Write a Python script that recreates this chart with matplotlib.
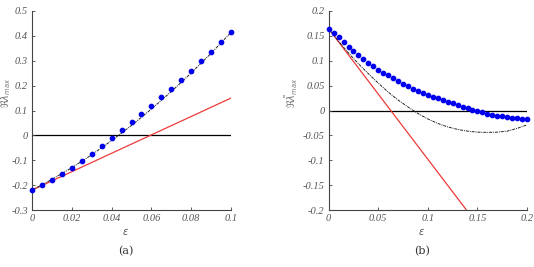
import numpy as np
import matplotlib
matplotlib.use('Agg')
import matplotlib.pyplot as plt

# ---- panel (a) data ----
eps_a_dots = [0, 0.005, 0.01, 0.015, 0.02, 0.025, 0.03, 0.035, 0.04, 0.045, 0.05,
              0.055, 0.06, 0.065, 0.07, 0.075, 0.08, 0.085, 0.09, 0.095, 0.1]
lam_a_dots = [-0.221, -0.201, -0.179, -0.157, -0.130, -0.104, -0.075, -0.043, -0.012, 0.020, 0.052,
              0.086, 0.119, 0.154, 0.188, 0.224, 0.260, 0.298, 0.335, 0.375, 0.414]

eps_a_curve = [0, 0.01, 0.02, 0.03, 0.04, 0.05, 0.06, 0.07, 0.08, 0.09, 0.1]
lam_a_curve = [-0.220, -0.177, -0.130, -0.078, -0.021, 0.040, 0.106, 0.176, 0.251, 0.330, 0.414]

eps_a_lin = [0, 0.1]
lam_a_lin = [-0.22, 0.15]

xt_a = [0, 0.02, 0.04, 0.06, 0.08, 0.1]
xt_a_lab = ['0', '0.02', '0.04', '0.06', '0.08', '0.1']
yt_a = [-0.3, -0.2, -0.1, 0, 0.1, 0.2, 0.3, 0.4, 0.5]
yt_a_lab = ['-0.3', '-0.2', '-0.1', '0', '0.1', '0.2', '0.3', '0.4', '0.5']

# ---- panel (b) data ----
eps_b_dots = [0, 0.005, 0.01, 0.015, 0.02, 0.025, 0.03, 0.035, 0.04, 0.045, 0.05,
              0.055, 0.06, 0.065, 0.07, 0.075, 0.08, 0.085, 0.09, 0.095, 0.1,
              0.105, 0.11, 0.115, 0.12, 0.125, 0.13, 0.135, 0.14, 0.145, 0.15,
              0.155, 0.16, 0.165, 0.17, 0.175, 0.18, 0.185, 0.19, 0.195, 0.2]
lam_b_dots = [0.164, 0.155, 0.147, 0.137, 0.128, 0.120, 0.112, 0.1035, 0.096, 0.089, 0.082,
              0.076, 0.071, 0.066, 0.059, 0.054, 0.049, 0.044, 0.039, 0.035, 0.032,
              0.028, 0.0245, 0.021, 0.018, 0.0145, 0.011, 0.0076, 0.0044, 0.0016, -0.0016,
              -0.0036, -0.0064, -0.0084, -0.0104, -0.0117, -0.013, -0.0144, -0.0157, -0.017, -0.0177]

eps_b_curve = [0, 0.01, 0.02, 0.03, 0.04, 0.05, 0.06, 0.07, 0.08, 0.09, 0.1,
               0.11, 0.12, 0.13, 0.14, 0.15, 0.16, 0.17, 0.18, 0.19, 0.2]
lam_b_curve = [0.164, 0.139, 0.1155, 0.094, 0.074, 0.055, 0.037, 0.021, 0.007, -0.006, -0.017,
               -0.026, -0.033, -0.038, -0.0415, -0.0435, -0.044, -0.0435, -0.0415, -0.036, -0.029]

eps_b_lin = [0, 0.2]
lam_b_lin = [0.164, -0.360]

xt_b = [0, 0.05, 0.1, 0.15, 0.2]
xt_b_lab = ['0', '0.05', '0.1', '0.15', '0.2']
yt_b = [-0.2, -0.15, -0.1, -0.05, 0, 0.05, 0.1, 0.15, 0.2]
yt_b_lab = ['-0.2', '-0.15', '-0.1', '-0.05', '0', '0.05', '0.1', '0.15', '0.2']

grey = '#555555'
tickfont = dict(family='Liberation Serif', style='italic', size=7.5, color=grey)

fig = plt.figure(figsize=(5.34, 2.67), dpi=100)
ax1 = fig.add_axes([32/534, 1 - 210/267, 199/534, 199/267])
ax2 = fig.add_axes([328.7/534, 1 - 210/267, 198.3/534, 199/267])


def style_axes(ax, xt, xlab, yt, ylab, xlim, ylim, ylabel, ylab_x, tag):
    ax.set_xlim(xlim)
    ax.set_ylim(ylim)
    ax.set_xticks(xt)
    ax.set_xticklabels(xlab, fontdict=tickfont)
    ax.set_yticks(yt)
    ax.set_yticklabels(ylab, fontdict=tickfont)
    ax.tick_params(direction='in', length=2.5, width=0.6, colors='#444444', pad=3,
                   labelcolor=grey)
    for s in ['top', 'right']:
        ax.spines[s].set_visible(False)
    for s in ['left', 'bottom']:
        ax.spines[s].set_color('#444444')
        ax.spines[s].set_linewidth(0.8)
    ax.set_ylabel(ylabel, fontsize=7, color='#777777')
    ax.yaxis.set_label_coords(ylab_x, 0.59)
    ax.text(0.47, -0.11, r'$\epsilon$', transform=ax.transAxes, ha='center', va='center',
            fontsize=7, color=grey)
    ax.text(0.47, -0.205, tag, transform=ax.transAxes, ha='center', va='center',
            fontsize=8, color='#333333', family='DejaVu Serif')


ax1.plot(eps_a_dots, lam_a_dots, 'o', color='#0000ee', markersize=3.1, zorder=4, clip_on=False)
ax1.plot(eps_a_curve, lam_a_curve, color='#222222', lw=0.7, ls=(0, (3, 1, 1, 1)), zorder=3)
ax1.plot(eps_a_lin, lam_a_lin, color='#ee3a3a', lw=0.9, zorder=2)
ax1.plot([0, 0.1], [0, 0], color='black', lw=0.9, zorder=1)
style_axes(ax1, xt_a, xt_a_lab, yt_a, yt_a_lab, (0, 0.1), (-0.3, 0.5),
           r'$\Re\lambda_{max}$', -0.095, '(a)')

ax2.plot(eps_b_dots, lam_b_dots, 'o', color='#0000ee', markersize=3.1, zorder=4, clip_on=False)
ax2.plot(eps_b_curve, lam_b_curve, color='#222222', lw=0.7, ls=(0, (3, 1, 1, 1)), zorder=3)
ax2.plot(eps_b_lin, lam_b_lin, color='#ee3a3a', lw=0.9, zorder=2)
ax2.plot([0, 0.2], [0, 0], color='black', lw=0.9, zorder=1)
style_axes(ax2, xt_b, xt_b_lab, yt_b, yt_b_lab, (0, 0.2), (-0.2, 0.2),
           r'$\Re\tilde{\lambda}_{max}$', -0.145, '(b)')

fig.savefig('out.png', dpi=100)
